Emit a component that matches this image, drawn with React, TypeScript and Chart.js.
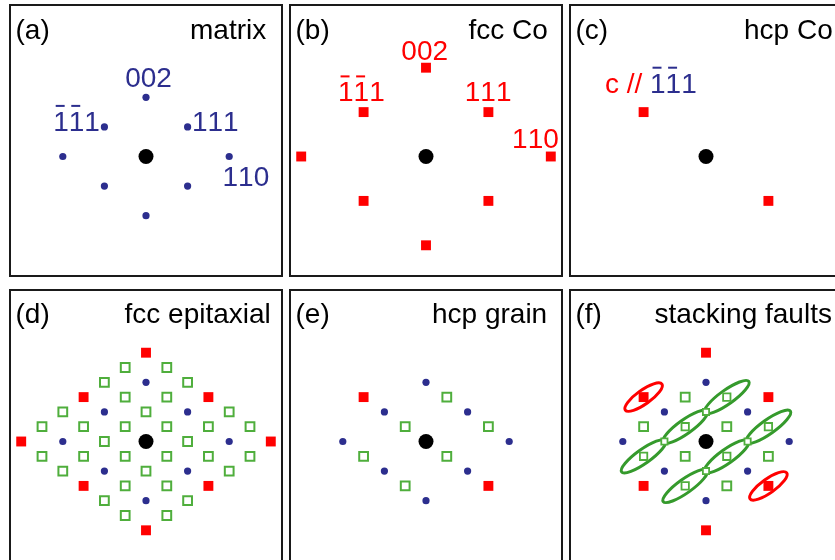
import React, { useEffect, useRef } from 'react';
import { Chart, registerables } from 'chart.js';

Chart.register(...registerables);

type P = [number, number];

// ---- data (reciprocal-lattice coordinates, matrix 1/2 units) ----
const transmittedBeam: P[] = [[0, 0]];
const matrixSpots: P[] = [[0, 2], [-1, 1], [1, 1], [-2, 0], [2, 0], [-1, -1], [1, -1], [0, -2]];
const fccCoSpots: P[] = [[0, 3], [-1.5, 1.5], [1.5, 1.5], [-3, 0], [3, 0], [-1.5, -1.5], [1.5, -1.5], [0, -3]];
const hcpCoSpots: P[] = [[-1.5, 1.5], [1.5, -1.5]];
const epitaxialSpots: P[] = [
  [-0.5, 2.5], [0.5, 2.5],
  [-1, 2], [1, 2],
  [-0.5, 1.5], [0.5, 1.5],
  [-2, 1], [0, 1], [2, 1],
  [-2.5, 0.5], [-1.5, 0.5], [-0.5, 0.5], [0.5, 0.5], [1.5, 0.5], [2.5, 0.5],
  [-1, 0], [1, 0],
  [-2.5, -0.5], [-1.5, -0.5], [-0.5, -0.5], [0.5, -0.5], [1.5, -0.5], [2.5, -0.5],
  [-2, -1], [0, -1], [2, -1],
  [-0.5, -1.5], [0.5, -1.5],
  [-1, -2], [1, -2],
  [-0.5, -2.5], [0.5, -2.5],
];
const hcpGrainSpots: P[] = [[0.5, 1.5], [-0.5, 0.5], [1.5, 0.5], [-1.5, -0.5], [0.5, -0.5], [-0.5, -1.5]];
const faultCoSpots: P[] = [[0, 3], [1.5, 1.5], [-1.5, 1.5], [-1.5, -1.5], [1.5, -1.5], [0, -3]];
const faultTwinSpots: P[] = [[-0.5, 1.5], [0.5, 0.5], [-1.5, 0.5], [-0.5, -0.5], [1.5, -0.5], [0.5, -1.5]];
const faultStreakCenters: P[] = [[0.5, 1.5], [-0.5, 0.5], [-1.5, -0.5], [1.5, 0.5], [0.5, -0.5], [-0.5, -1.5]];
const faultJunctionSpots: P[] = [[0, 1], [-1, 0], [1, 0], [0, -1]];
const faultCoStreaks: P[] = [[-1.5, 1.5], [1.5, -1.5]];

const BLUE = '#2c2e8e';
const RED = '#ff0000';
const GREEN = '#4fae3c';
const DKGREEN = '#359a2c';
const FS = 28;
const FONT = `${FS}px "Liberation Sans", Arial, sans-serif`;

const W = 274;
const H = 273;
const UX = 41.6;
const UY = 29.6;
const CY = 152.5;

type Seg = [string, string];
type Label = { segs: Seg[]; at: P; align: 'left' | 'center' | 'right'; dx: number; dy: number };
type Layer = { kind: 'black' | 'red' | 'blue' | 'green' | 'greenMid' | 'greenSmall'; pts: P[] };
type Ell = { pts: P[]; color: string; a: number; b: number; lw: number };
type PanelCfg = {
  key: string; tag: string; title: string; col: number; row: number; titleX: number;
  layers: Layer[]; labels: Label[]; ellipses: Ell[];
};

const panels: PanelCfg[] = [
  {
    key: 'a', tag: '(a)', title: 'matrix', col: 0, row: 0, titleX: 181,
    layers: [{ kind: 'black', pts: transmittedBeam }, { kind: 'blue', pts: matrixSpots }],
    labels: [
      { segs: [['002', BLUE]], at: matrixSpots[0], align: 'center', dx: 2.5, dy: -10 },
      { segs: [['~1~11', BLUE]], at: matrixSpots[1], align: 'right', dx: -4.5, dy: 4 },
      { segs: [['111', BLUE]], at: matrixSpots[2], align: 'left', dx: 4.3, dy: 4 },
      { segs: [['110', BLUE]], at: matrixSpots[4], align: 'left', dx: -6.7, dy: 29 },
    ],
    ellipses: [],
  },
  {
    key: 'b', tag: '(b)', title: 'fcc Co', col: 1, row: 0, titleX: 179.5,
    layers: [{ kind: 'black', pts: transmittedBeam }, { kind: 'red', pts: fccCoSpots }],
    labels: [
      { segs: [['002', RED]], at: fccCoSpots[0], align: 'center', dx: -1.3, dy: -7.7 },
      { segs: [['~1~11', RED]], at: fccCoSpots[1], align: 'center', dx: -2.2, dy: -10.7 },
      { segs: [['111', RED]], at: fccCoSpots[2], align: 'center', dx: -0.3, dy: -10.7 },
      { segs: [['110', RED]], at: fccCoSpots[4], align: 'right', dx: 8, dy: -8.7 },
    ],
    ellipses: [],
  },
  {
    key: 'c', tag: '(c)', title: 'hcp Co', col: 2, row: 0, titleX: 175,
    layers: [{ kind: 'black', pts: transmittedBeam }, { kind: 'red', pts: hcpCoSpots }],
    labels: [
      { segs: [['c // ', RED], ['~1~11', BLUE]], at: hcpCoSpots[0], align: 'left', dx: -38.7, dy: -19.4 },
    ],
    ellipses: [],
  },
  {
    key: 'd', tag: '(d)', title: 'fcc epitaxial', col: 0, row: 1, titleX: 115.5,
    layers: [
      { kind: 'black', pts: transmittedBeam },
      { kind: 'red', pts: fccCoSpots },
      { kind: 'blue', pts: matrixSpots },
      { kind: 'green', pts: epitaxialSpots },
    ],
    labels: [],
    ellipses: [],
  },
  {
    key: 'e', tag: '(e)', title: 'hcp grain', col: 1, row: 1, titleX: 143,
    layers: [
      { kind: 'black', pts: transmittedBeam },
      { kind: 'red', pts: hcpCoSpots },
      { kind: 'blue', pts: matrixSpots },
      { kind: 'green', pts: hcpGrainSpots },
    ],
    labels: [],
    ellipses: [],
  },
  {
    key: 'f', tag: '(f)', title: 'stacking faults', col: 2, row: 1, titleX: 85.5,
    layers: [
      { kind: 'black', pts: transmittedBeam },
      { kind: 'red', pts: faultCoSpots },
      { kind: 'blue', pts: matrixSpots },
      { kind: 'greenSmall', pts: faultJunctionSpots },
      { kind: 'greenMid', pts: faultStreakCenters },
      { kind: 'green', pts: faultTwinSpots },
    ],
    labels: [],
    ellipses: [
      { pts: faultStreakCenters, color: DKGREEN, a: 27, b: 7, lw: 3 },
      { pts: faultCoStreaks, color: RED, a: 22.5, b: 7, lw: 3 },
    ],
  },
];

function drawRich(ctx: CanvasRenderingContext2D, segs: Seg[], x: number, y: number, align: string) {
  ctx.font = FONT;
  const parts: { ch: string; w: number; bar: boolean; color: string }[] = [];
  let total = 0;
  for (const [text, color] of segs) {
    for (let i = 0; i < text.length; i++) {
      let ch = text[i];
      let bar = false;
      if (ch === '~') { bar = true; i++; ch = text[i]; }
      const w = ctx.measureText(ch).width;
      parts.push({ ch, w, bar, color });
      total += w;
    }
  }
  let cx = align === 'left' ? x : align === 'center' ? x - total / 2 : x - total;
  ctx.textAlign = 'left';
  ctx.textBaseline = 'alphabetic';
  for (const p of parts) {
    ctx.fillStyle = p.color;
    ctx.fillText(p.ch, cx, y);
    if (p.bar) ctx.fillRect(cx + FS * 0.09, y - 26, FS * 0.32, 2);
    cx += p.w;
  }
}

function makeDataset(layer: Layer) {
  const data = layer.pts.map(([x, y]) => ({ x, y }));
  switch (layer.kind) {
    case 'black':
      return { data, pointStyle: 'circle', pointRadius: 7.5, backgroundColor: '#000', borderWidth: 0 };
    case 'blue':
      return { data, pointStyle: 'circle', pointRadius: 3.6, backgroundColor: BLUE, borderWidth: 0 };
    case 'red':
      return { data, pointStyle: 'rect', pointRadius: 7, backgroundColor: RED, borderWidth: 0 };
    case 'green':
      return { data, pointStyle: 'rect', pointRadius: 6.2, backgroundColor: '#fff', borderColor: GREEN, borderWidth: 2 };
    case 'greenMid':
      return { data, pointStyle: 'rect', pointRadius: 5.2, backgroundColor: '#fff', borderColor: GREEN, borderWidth: 1.8 };
    default:
      return { data, pointStyle: 'rect', pointRadius: 4.4, backgroundColor: '#fff', borderColor: GREEN, borderWidth: 1.8 };
  }
}

function Panel({ cfg }: { cfg: PanelCfg }) {
  const ref = useRef<HTMLCanvasElement>(null);
  const left = 9 + cfg.col * 280;
  const top = 4 + cfg.row * 285;
  useEffect(() => {
    const canvas = ref.current!;
    const xr = (W / 2) / UX;
    const plugin = {
      id: 'panelDeco',
      beforeDatasetsDraw(chart: any) {
        const ctx: CanvasRenderingContext2D = chart.ctx;
        const xs = chart.scales.x;
        const ys = chart.scales.y;
        for (const e of cfg.ellipses) {
          for (const [px, py] of e.pts) {
            const cx = xs.getPixelForValue(px);
            const cy = ys.getPixelForValue(py);
            const vx = xs.getPixelForValue(px + 1) - cx;
            const vy = ys.getPixelForValue(py + 1) - cy;
            const ang = Math.atan2(vy, vx);
            ctx.save();
            ctx.strokeStyle = e.color;
            ctx.lineWidth = e.lw;
            ctx.beginPath();
            ctx.ellipse(cx, cy, e.a, e.b, ang, 0, Math.PI * 2);
            ctx.stroke();
            ctx.restore();
          }
        }
      },
      afterDraw(chart: any) {
        const ctx: CanvasRenderingContext2D = chart.ctx;
        const xs = chart.scales.x;
        const ys = chart.scales.y;
        ctx.save();
        for (const l of cfg.labels) {
          const x = xs.getPixelForValue(l.at[0]) + l.dx;
          const y = ys.getPixelForValue(l.at[1]) + l.dy;
          drawRich(ctx, l.segs, x, y, l.align);
        }
        const by = cfg.row === 0 ? 35 : 34;
        ctx.font = FONT;
        ctx.fillStyle = '#000';
        ctx.textAlign = 'left';
        ctx.textBaseline = 'alphabetic';
        ctx.fillText(cfg.tag, 6.5, by);
        ctx.fillText(cfg.title, cfg.titleX, by);
        ctx.strokeStyle = '#1a1a1a';
        ctx.lineWidth = 2;
        ctx.strokeRect(1, 1, W - 2, H - 2);
        ctx.restore();
      },
    };
    const chart = new Chart(canvas, {
      type: 'scatter',
      data: { datasets: cfg.layers.map(makeDataset) as any },
      options: {
        animation: false,
        responsive: false,
        events: [],
        layout: { padding: 0, autoPadding: false },
        plugins: { legend: { display: false }, tooltip: { enabled: false } },
        scales: {
          x: { type: 'linear', min: -xr, max: xr, display: false },
          y: { type: 'linear', min: -(H - CY) / UY, max: CY / UY, display: false },
        },
      },
      plugins: [plugin],
    });
    return () => chart.destroy();
  }, [cfg]);
  return (
    <canvas
      ref={ref}
      width={W}
      height={H}
      style={{ position: 'absolute', left, top, width: W, height: H }}
    />
  );
}

export default function App() {
  return (
    <div style={{ position: 'absolute', left: 0, top: 0, width: 835, height: 560, overflow: 'hidden', background: '#fff' }}>
      {panels.map((p) => (
        <Panel key={p.key} cfg={p} />
      ))}
    </div>
  );
}
